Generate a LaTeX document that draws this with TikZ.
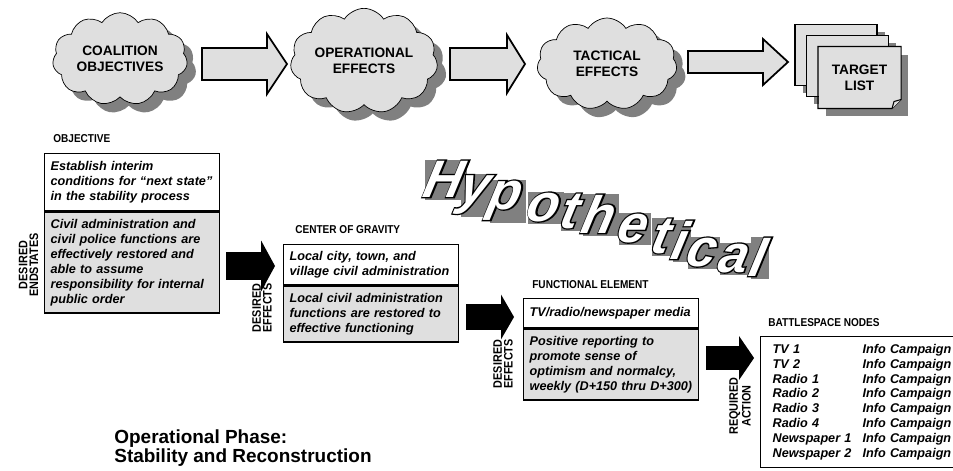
\documentclass[tikz,border=0pt]{standalone}
\usepackage{fontspec}
\setmainfont{Liberation Sans}
\newfontfamily\narrowfont[FakeStretch=0.88]{Liberation Sans}
\newfontface\hypwhite[FakeSlant=0.22]{Liberation Sans Bold Italic}
\newfontface\hypblack[FakeSlant=0.22, FakeBold=5]{Liberation Sans Bold Italic}
\usetikzlibrary{positioning, calc, shapes.symbols, shadows}

\newcommand{\boxfont}{\fontsize{7.2}{8.5}\selectfont\bfseries\itshape}
\newcommand{\cloudfont}{\fontsize{7.8}{9}\selectfont\bfseries}
\newcommand{\labelfont}{\narrowfont\fontsize{6.5}{7}\selectfont\bfseries}
\newcommand{\sidefont}{\narrowfont\fontsize{7}{6}\selectfont\bfseries}
\newcommand{\hypsize}{\fontsize{30}{32}\selectfont}

\tikzset{
    greyshadow/.style={drop shadow={shadow xshift=5pt, shadow yshift=-5pt, fill=black!50, opacity=1}},
    cloudbox/.style={cloud, cloud puffs=11, cloud puff arc=115, aspect=1.6, draw,
        fill=gray!25, inner sep=0pt, align=center, font=\cloudfont, greyshadow},
    pagebox/.style={draw, line width=0.6pt, fill=gray!25, minimum width=1.64cm,
        minimum height=1.22cm, align=center, font=\cloudfont,
        drop shadow={shadow xshift=4.5pt, shadow yshift=-4.5pt, fill=black!50, opacity=1}},
    topbox/.style={draw, line width=0.8pt, fill=white, anchor=north west,
        inner xsep=0.12cm, text width=3.26cm, align=left, font=\boxfont},
    lowbox/.style={topbox, fill=gray!25},
    headlabel/.style={anchor=west, inner sep=0pt, font=\labelfont},
    sidelabel/.style={rotate=90, align=center, inner sep=0pt, font=\sidefont},
    hypshade/.style={anchor=base, inner sep=1pt, fill=black!50, font=\hypwhite\hypsize},
    hypletter/.style={anchor=base, inner sep=0pt, text=white, font=\hypwhite\hypsize},
    pics/blockarrow/.style n args={5}{code={
        \filldraw[fill=#5, draw=black, line width=1pt]
            (0,-#2) -- (#1-#4,-#2) -- (#1-#4,-#3) -- (#1,0)
            -- (#1-#4,#3) -- (#1-#4,#2) -- (0,#2) -- cycle;
    }}
}

\begin{document}
\begin{tikzpicture}[x=0.02cm, y=-0.02cm]
    \useasboundingbox (0,0) rectangle (953,470);

    % top row: clouds and target list
    \node[cloudbox, minimum width=2.7cm,  minimum height=1.64cm] (coal)  at (120,59) {COALITION\\OBJECTIVES};
    \node[cloudbox, minimum width=2.76cm, minimum height=1.76cm] (opeff) at (364,61) {OPERATIONAL\\EFFECTS};
    \node[cloudbox, minimum width=2.8cm,  minimum height=1.84cm] (taceff) at (607,64) {TACTICAL\\EFFECTS};

    \pic at (202,64) {blockarrow={85}{16}{30}{20}{gray!25}};
    \pic at (450,64) {blockarrow={75}{16}{29}{18}{gray!25}};
    \pic at (688,62) {blockarrow={100}{11}{23}{25}{gray!25}};

    \node[pagebox] (pg1) at (836,55) {};
    \node[pagebox] (pg2) at (847.5,66) {};
    \node[pagebox, draw=none] (pg3) at (859.5,77.5) {TARGET\\LIST};
    \fill[black!50] ($(pg3.south east)+(0,-9)$) -- (pg3.south east) -- ($(pg3.south east)+(-9,0)$) -- cycle;
    \draw[line width=0.6pt] (pg3.north west) -- (pg3.north east) -- ($(pg3.south east)+(0,-9)$)
        -- ($(pg3.south east)+(-9,0)$) -- (pg3.south west) -- cycle;
    \draw[line width=0.6pt, fill=gray!25] ($(pg3.south east)+(0,-9)$) -- ($(pg3.south east)+(-7,-7)$)
        -- ($(pg3.south east)+(-9,0)$);

    % objective
    \node[headlabel] (objlbl) at (53,139) {OBJECTIVE};
    \node[topbox, minimum height=1.14cm] (objtop) at (44,153)
        {Establish interim\\conditions for ``next state''\\in the stability process};
    \node[lowbox, minimum height=2.02cm] (objbot) at (objtop.south west)
        {Civil administration and\\civil police functions are\\effectively restored and\\able to assume\\responsibility for internal\\public order};
    \node[sidelabel] (objside) at (28.5,265) {DESIRED\\ENDSTATES};
    \pic at (227,266) {blockarrow={47}{13}{22}{12}{black}};

    % center of gravity
    \node[headlabel] (coglbl) at (295,230) {CENTER OF GRAVITY};
    \node[topbox, minimum height=0.8cm] (cogtop) at (283,244)
        {Local city, town, and\\village civil administration};
    \node[lowbox, minimum height=1.12cm] (cogbot) at (cogtop.south west)
        {Local civil administration\\functions are restored to\\effective functioning};
    \node[sidelabel] (cogside) at (262,308) {DESIRED\\EFFECTS};
    \pic at (467,317) {blockarrow={46}{12}{19}{11}{black}};

    % functional element
    \node[headlabel] (felbl) at (532,285) {FUNCTIONAL ELEMENT};
    \node[topbox, minimum height=0.58cm] (fetop) at (523,298)
        {TV/radio/newspaper media};
    \node[lowbox, minimum height=1.42cm] (febot) at (fetop.south west)
        {Positive reporting to\\promote sense of\\optimism and normalcy,\\weekly (D+150 thru D+300)};
    \node[sidelabel] (feside) at (503,364) {DESIRED\\EFFECTS};
    \pic at (707,358) {blockarrow={46}{11}{19}{13}{black}};

    % battlespace nodes
    \node[headlabel] (bslbl) at (768,323) {BATTLESPACE NODES};
    \node[topbox, minimum height=2.62cm, inner xsep=0.24cm, text width=3.9cm] (bsnodes) at (760,336)
        {\makebox[1.8cm][l]{TV 1}Info Campaign\\
         \makebox[1.8cm][l]{TV 2}Info Campaign\\
         \makebox[1.8cm][l]{Radio 1}Info Campaign\\
         \makebox[1.8cm][l]{Radio 2}Info Campaign\\
         \makebox[1.8cm][l]{Radio 3}Info Campaign\\
         \makebox[1.8cm][l]{Radio 4}Info Campaign\\
         \makebox[1.8cm][l]{Newspaper 1}Info Campaign\\
         \makebox[1.8cm][l]{Newspaper 2}Info Campaign};
    \node[sidelabel] (bsside) at (740,406) {REQUIRED\\ACTION};

    \node[anchor=north west, inner sep=0pt, align=left, font=\fontsize{10.8}{11.3}\selectfont\bfseries]
        (phase) at (114,429) {Operational Phase:\\Stability and Reconstruction};

    % hypothetical stamp
    \foreach \ch/\x/\y [count=\i] in {H/441/197, y/472/203, p/503/209, o/541/221, t/567/228, h/596/233,
                                      e/630/242, t/658/253, i/677/259, c/699/266, a/731/272, l/755/276}
        \node[hypshade] (shade\i) at (\x+5,\y+1) {\phantom{\ch}};
    \foreach \ch/\x/\y [count=\i] in {H/441/197, y/472/203, p/503/209, o/541/221, t/567/228, h/596/233,
                                      e/630/242, t/658/253, i/677/259, c/699/266, a/731/272, l/755/276}
        \node[hypletter] (letter\i) at (\x,\y) {\rlap{\color{black}\hypblack\ch}\ch};
\end{tikzpicture}
\end{document}
